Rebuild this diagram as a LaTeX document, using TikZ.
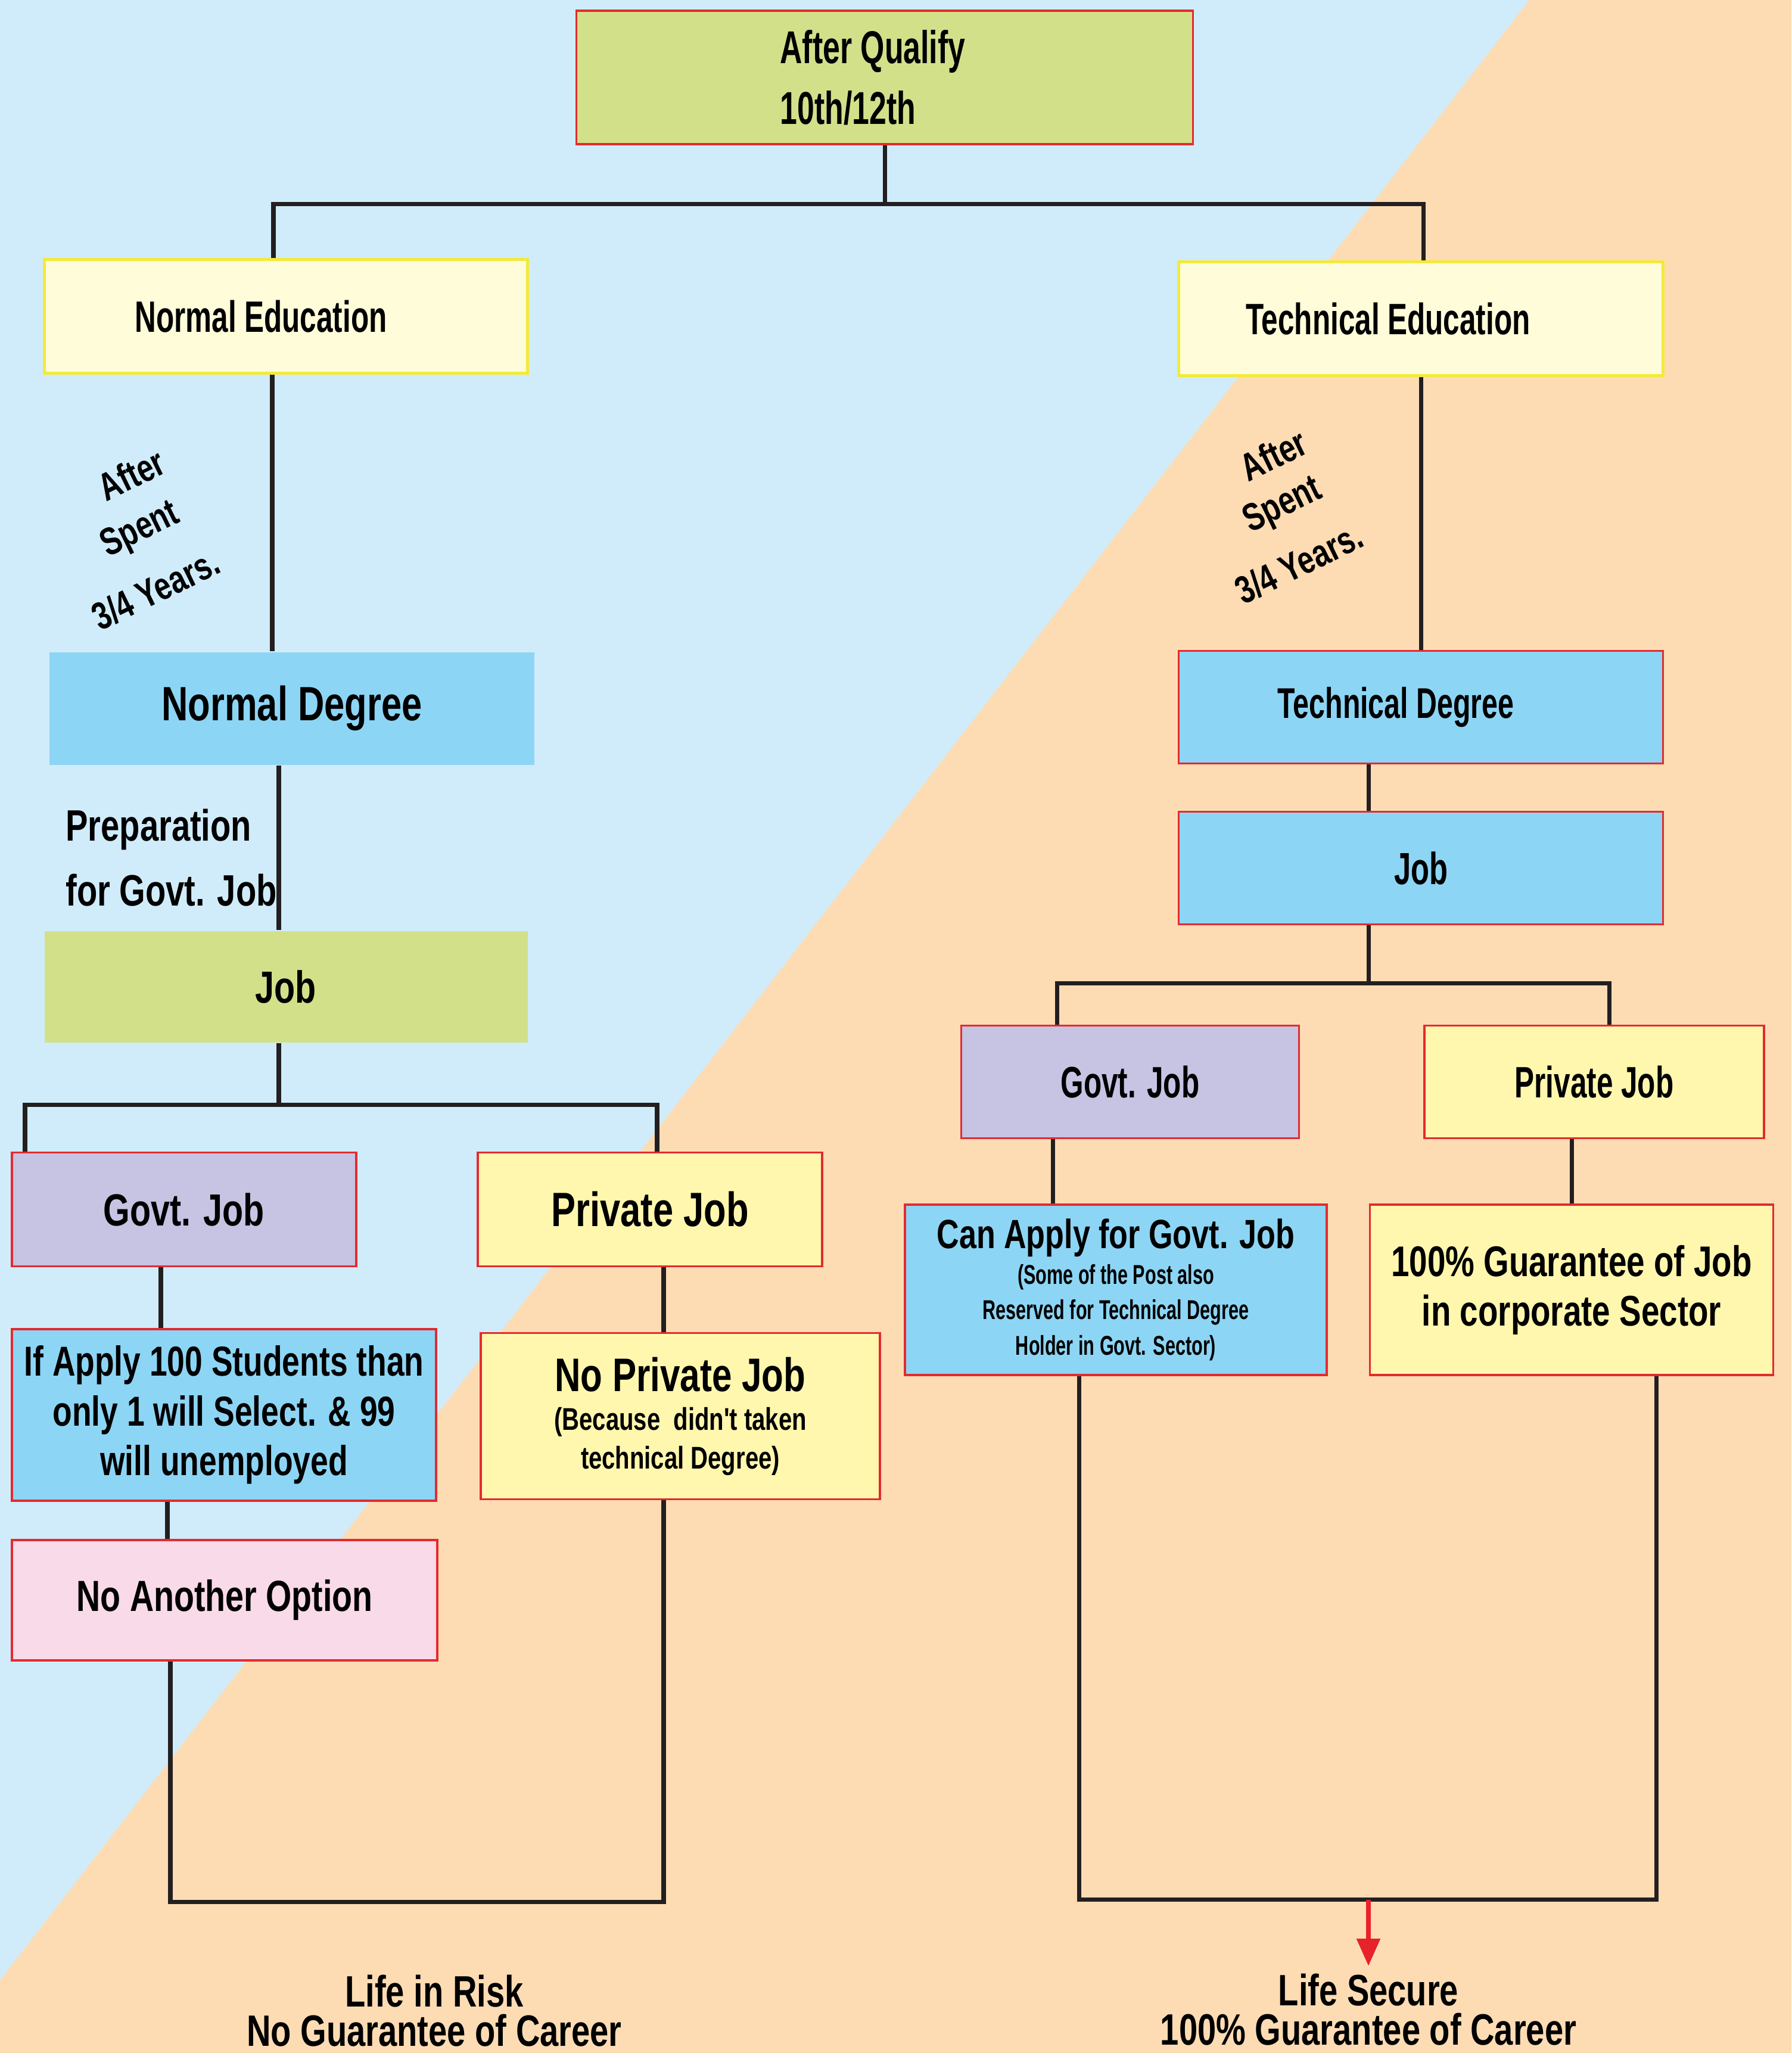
\documentclass[tikz,border=0pt]{standalone}
\usepackage{fontspec}
\setmainfont{Liberation Sans}
\newfontfamily\roundsans{Liberation Sans}[FakeStretch=0.76]
\newfontfamily\narrowsans{Liberation Sans}[FakeStretch=0.67]
\usetikzlibrary{arrows.meta}

\definecolor{skyback}{HTML}{D0ECFA}
\definecolor{peachback}{HTML}{FDDCB4}
\definecolor{qualgreen}{HTML}{D3E08A}
\definecolor{cream}{HTML}{FFFCDA}
\definecolor{eduyellow}{HTML}{F2EA3A}
\definecolor{degblue}{HTML}{8DD5F5}
\definecolor{govlilac}{HTML}{C6C3E3}
\definecolor{privyellow}{HTML}{FFF7AE}
\definecolor{optionpink}{HTML}{F9DAE8}
\definecolor{boxred}{HTML}{E32B2F}
\definecolor{arrowred}{HTML}{E8222A}
\definecolor{linkgrey}{HTML}{231F20}

\newcommand{\roundfs}[2]{\roundsans\bfseries\fontsize{#1}{#2}\selectfont}
\newcommand{\narrowfs}[2]{\narrowsans\bfseries\fontsize{#1}{#2}\selectfont}

\begin{document}
\begin{tikzpicture}[x=1cm,y=-1cm,
    box/.style={draw=boxred,line width=1.1pt,align=center,inner sep=1pt},
    edubox/.style={draw=eduyellow,line width=1.6pt,fill=cream,align=center},
    spent/.style={rotate=26,font=\roundfs{18.5}{22}},
    link/.style={line width=2pt,draw=linkgrey},
    alert/.style={line width=2.4pt,draw=arrowred,-{Triangle[length=4.6mm,width=3.8mm]}}]

    \useasboundingbox (0,0) rectangle (30.07,34.46);
    \fill[skyback] (0,0) rectangle (30.07,34.46);
    \fill[peachback] (25.67,0) -- (30.07,0) -- (30.07,34.46) -- (0,34.46) -- (0,33.24) -- cycle;

    \node[box,fill=qualgreen,minimum width=10.35cm,minimum height=2.24cm,align=left,font=\narrowfs{22}{29}] (qualify) at (14.85,1.30) {\hspace*{-4mm}After Qualify\\\hspace*{-4mm}10th/12th};

    \node[edubox,minimum width=8.11cm,minimum height=1.91cm,font=\narrowfs{21}{25}] (normedu) at (4.80,5.31) {\hspace*{-8.4mm}Normal Education};
    \node[edubox,minimum width=8.13cm,minimum height=1.91cm,font=\narrowfs{21}{25}] (techedu) at (23.85,5.35) {\hspace*{-11mm}Technical Education};

    \node[spent] (normafter) at (2.20,7.96) {After};
    \node[spent] (normspent) at (2.36,8.91) {Spent};
    \node[spent] (normyears) at (2.61,9.89) {3/4 Years.};
    \node[spent] (techafter) at (21.37,7.63) {After};
    \node[spent] (techspent) at (21.54,8.50) {Spent};
    \node[spent] (techyears) at (21.80,9.45) {3/4 Years.};

    \node[box,draw=none,fill=degblue,minimum width=8.13cm,minimum height=1.89cm,font=\roundfs{23}{27}] (normdeg) at (4.90,11.89) {Normal Degree};
    \node[box,fill=degblue,minimum width=8.13cm,minimum height=1.89cm,font=\narrowfs{20.5}{24}] (techdeg) at (23.85,11.87) {\hspace*{-8.4mm}Technical Degree};

    \node[anchor=west,align=left,font=\roundfs{21}{31}] (prep) at (0.98,14.40) {Preparation\\for Govt. Job};

    \node[box,fill=degblue,minimum width=8.13cm,minimum height=1.89cm,font=\narrowfs{21.5}{25}] (techjob) at (23.85,14.57) {Job};
    \node[box,draw=none,fill=qualgreen,minimum width=8.11cm,minimum height=1.87cm,font=\roundfs{21.5}{25}] (normjob) at (4.80,16.56) {Job};

    \node[box,fill=govlilac,minimum width=5.78cm,minimum height=1.91cm,font=\roundfs{21.5}{25}] (normgovt) at (3.09,20.30) {Govt. Job};
    \node[box,fill=privyellow,minimum width=5.78cm,minimum height=1.91cm,font=\roundfs{23}{27}] (normpriv) at (10.91,20.30) {Private Job};
    \node[box,fill=govlilac,minimum width=5.67cm,minimum height=1.89cm,font=\narrowfs{21}{25}] (techgovt) at (18.97,18.16) {Govt. Job};
    \node[box,fill=privyellow,minimum width=5.70cm,minimum height=1.89cm,font=\narrowfs{21}{25}] (techpriv) at (26.76,18.16) {Private Job};

    \node[box,fill=degblue,minimum width=7.12cm,minimum height=2.88cm,font=\roundfs{20}{23.7}] (apply) at (3.76,23.75) {If Apply 100 Students than\\only 1 will Select. \& 99\\will unemployed};
    \node[box,fill=privyellow,minimum width=6.70cm,minimum height=2.79cm,font=\roundfs{15}{18.5}] (noprivate) at (11.42,23.77) {{\roundfs{22.5}{18.5}No Private Job}\\(Because\ \ didn't taken\\technical Degree)};
    \node[box,fill=optionpink,minimum width=7.14cm,minimum height=2.02cm,font=\roundfs{20.8}{25}] (nooption) at (3.77,26.86) {No Another Option};

    \node[box,fill=degblue,minimum width=7.08cm,minimum height=2.86cm,font=\narrowfs{13}{17}] (canapply) at (18.73,21.65) {{\roundfs{19.5}{17}Can Apply for Govt. Job}\\(Some of the Post also\\Reserved for Technical Degree\\Holder in Govt. Sector)};
    \node[box,fill=privyellow,minimum width=6.77cm,minimum height=2.86cm,font=\roundfs{20.5}{23.6}] (guarantee) at (26.38,21.65) {100\% Guarantee of Job\\in corporate Sector};

    \node[align=center,font=\roundfs{21}{19}] (risk) at (7.29,33.75) {Life in Risk\\No Guarantee of Career};
    \node[align=center,font=\roundfs{21}{19}] (secure) at (22.97,33.73) {Life Secure\\100\% Guarantee of Career};

    % after qualify splits in two
    \draw[link] (qualify.south) -- ++(0,0.99) coordinate (split0);
    \draw[link] ([xshift=-2.1mm]normedu.north) |- (split0) -| ([xshift=0.4mm]techedu.north);

    \draw[link] ([xshift=-2.3mm]normedu.south) -- ([xshift=-2.3mm]normedu.south |- normdeg.north);
    \draw[link] (techedu.south) -- (techdeg.north);
    \draw[link] ([xshift=-2.2mm]normdeg.south) -- ([xshift=-2.2mm]normdeg.south |- normjob.north);
    \draw[link] ([xshift=-8.8mm]techdeg.south) -- ([xshift=-8.8mm]techdeg.south |- techjob.north);

    % job splits
    \draw[link] ([xshift=-1.2mm]normjob.south) -- ++(0,1.03) coordinate (split1);
    \draw[link] ([xshift=-26.7mm]normgovt.north) |- (split1) -| ([xshift=1.2mm]normpriv.north);
    \draw[link] ([xshift=-8.8mm]techjob.south) -- ++(0,0.97) coordinate (split2);
    \draw[link] ([xshift=-12.3mm]techgovt.north) |- (split2) -| ([xshift=2.5mm]techpriv.north);

    \draw[link] ([xshift=-3.9mm]normgovt.south) -- ([xshift=-3.9mm]normgovt.south |- apply.north);
    \draw[link] ([xshift=2.3mm]normpriv.south) -- ([xshift=2.3mm]normpriv.south |- noprivate.north);
    \draw[link] ([xshift=-9.5mm]apply.south) -- ([xshift=-9.5mm]apply.south |- nooption.north);
    \draw[link] ([xshift=-13mm]techgovt.south) -- ([xshift=-13mm]techgovt.south |- canapply.north);
    \draw[link] ([xshift=-3.8mm]techpriv.south) -- ([xshift=-3.8mm]techpriv.south |- guarantee.north);

    % outcomes
    \draw[link] ([xshift=-9.1mm]nooption.south) -- ++(0,4.04) -| ([xshift=-2.8mm]noprivate.south);
    \draw[link] ([xshift=-6.2mm]canapply.south) -- ++(0,8.79) coordinate (secbase) -| ([xshift=14.2mm]guarantee.south);
    \draw[alert] (secbase -| secure.north) -- (secure.north);
\end{tikzpicture}
\end{document}
